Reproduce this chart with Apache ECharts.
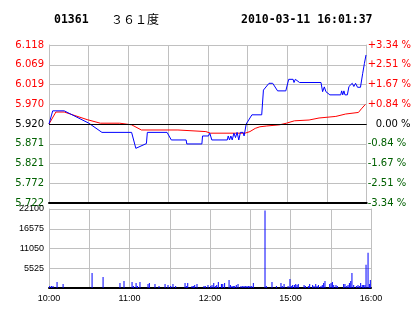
<!DOCTYPE html>
<html><head><meta charset="utf-8">
<script src="https://cdn.jsdelivr.net/npm/echarts@6/dist/echarts.min.js"></script>
<style>html,body{margin:0;padding:0;background:#fff}#c{width:414px;height:314px}</style>
</head><body><div id="c"></div>
<script>
// ---- data ----
const code = '01361';
const nameText = '３６１度';
const stamp = '2010-03-11 16:01:37';
const prevClose = 5.920;
const priceLabels = ['5.722','5.772','5.821','5.871','5.920','5.970','6.019','6.069','6.118'];
const pctLabels = ['-3.34 %','-2.51 %','-1.67 %','-0.84 %','0.00 %','+0.84 %','+1.67 %','+2.51 %','+3.34 %'];
const volLabels = ['0','5525','11050','16575','22100'];
const timeLabels = ['10:00','11:00','12:00','15:00','16:00'];
// time slots: 0..240 (30 slots per grid column)
const priceTime = [0,2.8,11.5,30.1,40,62.4,65.6,73.6,74.3,89.2,92.4,103.6,104.1,115.5,116,120.5,121.5,123,134.7,135.4,136.4,137.4,138.4,139.7,140.9,142.1,143.4,144.6,146.6,147.4,148.3,149,153.3,160.7,162,166.2,169,172.7,178.9,181.1,184.4,185.1,186.1,189.3,205.5,206.7,208,209.2,212.2,220.4,221.1,221.9,222.8,223.6,225.4,226.6,229.1,230.3,231.6,233.1,235.3,237,238.3,239.5];
const priceVals = [5.920,5.953,5.953,5.922,5.899,5.899,5.859,5.871,5.899,5.899,5.880,5.880,5.870,5.870,5.890,5.890,5.897,5.880,5.880,5.890,5.880,5.890,5.880,5.897,5.886,5.899,5.880,5.899,5.899,5.890,5.890,5.920,5.943,5.943,6.005,6.022,6.022,6.003,6.003,6.032,6.032,6.024,6.032,6.024,6.024,6.001,6.013,6.001,5.993,5.993,6.003,5.993,6.003,5.993,5.993,6.014,6.022,6.014,6.022,6.012,6.012,6.047,6.072,6.093];
const avgTime = [0,5.2,11.5,28.8,38.8,53.4,62.4,69.8,97.4,98.2,118.5,122,148.1,151.8,155.8,159.3,164.5,174.2,179.4,185.4,196.5,204,216.7,224.1,233.8,236,239];
const avgVals = [5.920,5.950,5.950,5.931,5.922,5.922,5.918,5.905,5.905,5.901,5.901,5.897,5.897,5.901,5.909,5.913,5.915,5.918,5.922,5.928,5.930,5.935,5.939,5.945,5.949,5.958,5.969];
const volTime = [0.5,1.8,3.0,6.0,10.5,32.1,40.3,52.9,55.9,61.9,62.9,64.9,65.9,67.8,73.8,74.8,79.0,82.0,86.5,88.7,90.7,92.4,94.4,101.4,102.4,103.4,106.6,107.6,108.6,110.3,115.5,116.5,118.5,120.5,121.5,122.8,124.0,125.0,126.2,128.5,129.5,130.9,134.2,135.2,136.4,137.4,138.4,139.6,140.9,143.1,144.4,145.4,146.6,147.6,148.8,149.8,151.1,152.3,161.0,162.0,166.2,169.5,172.9,173.9,175.2,178.2,179.6,180.6,181.6,182.9,183.9,184.9,185.8,190.1,191.1,193.3,194.3,196.5,197.5,198.8,199.8,200.8,202.7,203.7,204.7,205.7,209.2,210.2,211.2,212.2,213.9,214.9,219.6,220.6,221.9,222.9,223.9,224.9,225.8,227.1,229.1,230.3,231.3,232.3,233.5,234.5,235.5,236.3,237.8,238.8,239.5];
const volVals = [564,564,564,1692,1128,4230,3102,1410,1974,1692,564,1410,564,1692,1128,1410,1128,564,1128,846,564,1128,564,1410,564,1410,564,564,846,1128,564,564,846,564,846,1410,564,846,1692,1128,1128,1410,2256,846,564,564,564,846,1128,564,564,564,564,564,564,564,564,1410,21714,564,1692,564,1410,564,1128,564,2538,564,846,846,1128,846,1128,846,564,564,1128,846,564,1128,564,846,564,846,1410,1974,1128,1410,1692,846,846,564,1128,1128,564,846,1410,1974,4230,846,564,846,564,1410,846,846,846,6486,9870,1128,2256];

// ---- chart ----
const step = (parseFloat(priceLabels[8]) - parseFloat(priceLabels[0])) / 8;
const toUnit = p => (p - prevClose) / step;
const RED = '#ff0000', GREEN = '#006000', GRAY = '#c0c0c0';
const lblColor = i => i > 4 ? RED : (i < 4 ? GREEN : '#000');
const chart = echarts.init(document.getElementById('c'), null, {renderer: 'canvas'});
const timeFmt = v => { const i = Math.round(v / 60); return (v % 60 === 0 && timeLabels[i]) ? timeLabels[i] : ''; };
chart.setOption({
  animation: false,
  backgroundColor: '#fff',
  title: [
    {text: code, left: 49, top: 9, textStyle: {fontFamily: 'DejaVu Sans Mono', fontWeight: 'bold', fontSize: 11.5, color: '#000'}},
    {text: nameText, left: 106, top: 8, textStyle: {fontFamily: 'Noto Sans CJK SC', fontWeight: 'normal', fontSize: 12, color: '#000'}},
    {text: stamp, left: 236, top: 9, textStyle: {fontFamily: 'DejaVu Sans Mono', fontWeight: 'bold', fontSize: 11.5, color: '#000'}}
  ],
  grid: [
    {left: 49, right: 43, top: 45, height: 158},
    {left: 49, right: 43, top: 209, height: 79}
  ],
  xAxis: [
    {type: 'value', gridIndex: 0, min: 0, max: 240, interval: 30,
     axisLine: {show: true, onZero: false, lineStyle: {color: '#000', width: 2}},
     axisTick: {show: false}, axisLabel: {show: false},
     splitLine: {show: true, lineStyle: {color: GRAY, width: 1}}},
    {type: 'value', gridIndex: 1, min: 0, max: 240, interval: 30,
     axisLine: {show: true, onZero: false, lineStyle: {color: '#000', width: 2}},
     axisTick: {show: false},
     axisLabel: {show: true, formatter: timeFmt, margin: 6, color: '#000', fontFamily: 'Liberation Sans', fontSize: 9},
     splitLine: {show: true, lineStyle: {color: GRAY, width: 1}}}
  ],
  yAxis: [
    {type: 'value', gridIndex: 0, min: -4, max: 4, interval: 1, position: 'left',
     axisLine: {show: true, lineStyle: {color: GRAY}}, axisTick: {show: false},
     axisLabel: {margin: 5, fontFamily: 'DejaVu Sans', fontSize: 10,
       formatter: v => priceLabels[Math.round(v) + 4],
       color: v => lblColor(Math.round(v) + 4)},
     splitLine: {show: true, lineStyle: {color: GRAY, width: 1}}},
    {type: 'value', gridIndex: 0, min: -4, max: 4, interval: 1, position: 'right',
     axisLine: {show: true, lineStyle: {color: GRAY}}, axisTick: {show: false},
     axisLabel: {margin: 1, fontFamily: 'DejaVu Sans', fontSize: 10,
       formatter: v => { const i = Math.round(v) + 4; return i === 4 ? '{z|' + pctLabels[i] + '}' : pctLabels[i]; },
       color: v => lblColor(Math.round(v) + 4),
       rich: {z: {padding: [0, 0, 0, 8], color: '#000', fontFamily: 'DejaVu Sans', fontSize: 10}}},
     splitLine: {show: false}},
    {type: 'value', gridIndex: 1, min: 0, max: 22100, interval: 5525, position: 'left',
     axisLine: {show: true, lineStyle: {color: GRAY}}, axisTick: {show: false},
     axisLabel: {margin: 5, fontFamily: 'Liberation Sans', fontSize: 9, color: '#000',
       formatter: v => { const i = Math.round(v / 5525); return i === 0 ? '' : volLabels[i]; }},
     splitLine: {show: true, lineStyle: {color: GRAY, width: 1}}},
    {type: 'value', gridIndex: 1, min: 0, max: 22100, interval: 5525, position: 'right',
     axisLine: {show: true, lineStyle: {color: GRAY}}, axisTick: {show: false},
     axisLabel: {show: false}, splitLine: {show: false}}
  ],
  series: [
    {type: 'line', xAxisIndex: 0, yAxisIndex: 0, symbol: 'none', silent: true,
     data: avgTime.map((t, i) => [t, toUnit(avgVals[i])]),
     lineStyle: {color: RED, width: 1}, z: 3},
    {type: 'line', xAxisIndex: 0, yAxisIndex: 0, symbol: 'none', silent: true,
     data: priceTime.map((t, i) => [t, toUnit(priceVals[i])]),
     lineStyle: {color: '#0000ff', width: 1}, z: 4,
     markLine: {silent: true, symbol: 'none', label: {show: false},
       lineStyle: {color: '#000', width: 1, type: 'solid'}, data: [{yAxis: 0}]}},
    {type: 'bar', xAxisIndex: 1, yAxisIndex: 2, barWidth: 1, silent: true,
     data: volTime.map((t, i) => [t, volVals[i]]),
     itemStyle: {color: '#0000ff'}}
  ]
});
</script></body></html>
